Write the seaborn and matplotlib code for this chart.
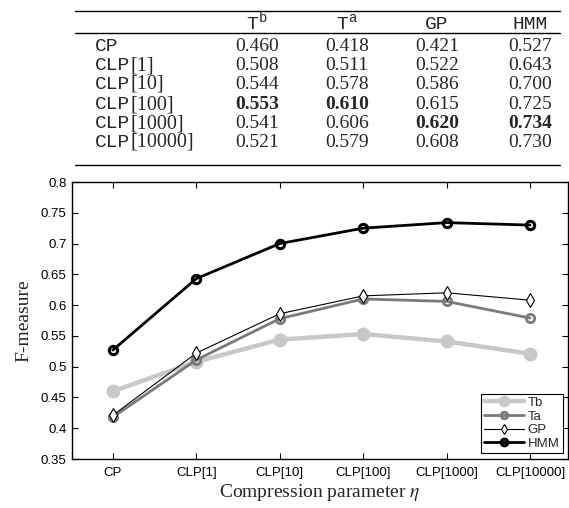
import numpy as np
import pandas as pd
import seaborn as sns
import matplotlib.pyplot as plt

# data
methods = ['CP', 'CLP[1]', 'CLP[10]', 'CLP[100]', 'CLP[1000]', 'CLP[10000]']
tb = [0.460, 0.508, 0.544, 0.553, 0.541, 0.521]
ta = [0.418, 0.511, 0.578, 0.610, 0.606, 0.579]
gp = [0.421, 0.522, 0.586, 0.615, 0.620, 0.608]
hmm = [0.527, 0.643, 0.700, 0.725, 0.734, 0.730]
series_names = ['Tb', 'Ta', 'GP', 'HMM']
header_main = ['T', 'T', 'GP', 'HMM']
header_sup = ['b', 'a', '', '']

sns.set_style('ticks')
plt.rcParams['font.family'] = ['Liberation Sans', 'DejaVu Sans']
plt.rcParams['mathtext.fontset'] = 'stix'
SERIF = ['Liberation Serif', 'DejaVu Serif']
MONO = ['Liberation Mono', 'DejaVu Sans Mono']

fig = plt.figure(figsize=(5.69, 5.08), dpi=100)
ax = fig.add_axes([72 / 569, 1 - 459 / 508, 496 / 569, 277 / 508])

df = pd.DataFrame({'method': methods, 'Tb': tb, 'Ta': ta, 'GP': gp, 'HMM': hmm})
df['x'] = np.arange(len(methods))

styles = {
    'Tb': dict(color='#c8c8c8', lw=3.2, marker='o', ms=8.5, mfc='#c8c8c8', mec='#c8c8c8', mew=1.5),
    'Ta': dict(color='#7a7a7a', lw=2.0, marker='o', ms=6, mfc='none', mec='#7a7a7a', mew=2.0),
    'GP': dict(color='black', lw=0.8, marker='d', ms=7, mfc='white', mec='black', mew=0.8),
    'HMM': dict(color='black', lw=2.0, marker='o', ms=6, mfc='none', mec='black', mew=2.2),
}
for name in series_names:
    st = styles[name]
    sns.lineplot(data=df, x='x', y=name, ax=ax, label=name, color=st['color'],
                 linewidth=st['lw'], marker=st['marker'], markersize=st['ms'],
                 markerfacecolor=st['mfc'], markeredgecolor=st['mec'],
                 markeredgewidth=st['mew'])

ax.set_xlim(-0.49, 5.455)
ax.set_ylim(0.35, 0.8)
ax.set_xticks(df['x'])
ax.set_xticklabels(methods)
ax.set_yticks(np.arange(0.35, 0.801, 0.05))
ax.set_yticklabels(['0.35', '0.4', '0.45', '0.5', '0.55', '0.6', '0.65', '0.7', '0.75', '0.8'])
ax.tick_params(direction='in', length=4, width=0.8, labelsize=9.5, top=True, right=True,
               colors='black')
ax.tick_params(axis='y', pad=4)
ax.tick_params(axis='x', pad=6)
for sp in ax.spines.values():
    sp.set_visible(True)
    sp.set_linewidth(1.0)
    sp.set_color('black')
ax.set_xlabel('Compression parameter $\\eta$', fontsize=14, family=SERIF, labelpad=2)
ax.set_ylabel('F-measure', fontsize=14, family=SERIF, labelpad=6)

leg = ax.legend(loc='lower right', bbox_to_anchor=(563 / 569, 1 - 453 / 508),
                bbox_transform=fig.transFigure, fontsize=9.5, frameon=True, fancybox=False,
                edgecolor='black', framealpha=1, borderpad=0.25, labelspacing=0.1,
                handlelength=3.0, handletextpad=0.3, borderaxespad=0, markerscale=0.8)
leg.get_frame().set_linewidth(0.8)

# table above the chart
def fx(px):
    return px / 569

def fy(py):
    return 1 - py / 508

for yy in (11, 33, 165):
    fig.add_artist(plt.Line2D([fx(75), fx(560)], [fy(yy), fy(yy)], color='black', lw=1.0))

col_x = [257, 347, 437, 530]
header_base = fy(29)
fig.canvas.draw()
renderer = fig.canvas.get_renderer()
for cx, main, sup in zip(col_x, header_main, header_sup):
    shift = 0.008 if sup else 0
    t = fig.text(fx(cx) - shift, header_base, main, family=MONO, fontsize=14,
                 ha='center', va='baseline')
    if sup:
        ext = t.get_window_extent(renderer=renderer)
        fig.text(ext.x1 / fig.bbox.width, header_base + 0.013, sup, family=MONO,
                 fontsize=10, ha='left', va='baseline')

columns = [tb, ta, gp, hmm]
row_base = [51, 70, 89, 109, 128, 147]
for i, m in enumerate(methods):
    by = fy(row_base[i])
    if '[' in m:
        head, rest = m[:3], m[3:]
    else:
        head, rest = m, ''
    t = fig.text(fx(95), by, head, family=MONO, fontsize=14, ha='left', va='baseline')
    if rest:
        ext = t.get_window_extent(renderer=renderer)
        fig.text(ext.x1 / fig.bbox.width, by, rest, family=SERIF, fontsize=14.5,
                 ha='left', va='baseline')
    for j, col in enumerate(columns):
        bold = col[i] == max(col)
        fig.text(fx(col_x[j]), by, f'{col[i]:.3f}', family=SERIF, fontsize=14,
                 ha='center', va='baseline', weight='bold' if bold else 'normal')

fig.savefig('out.png', dpi=100)
